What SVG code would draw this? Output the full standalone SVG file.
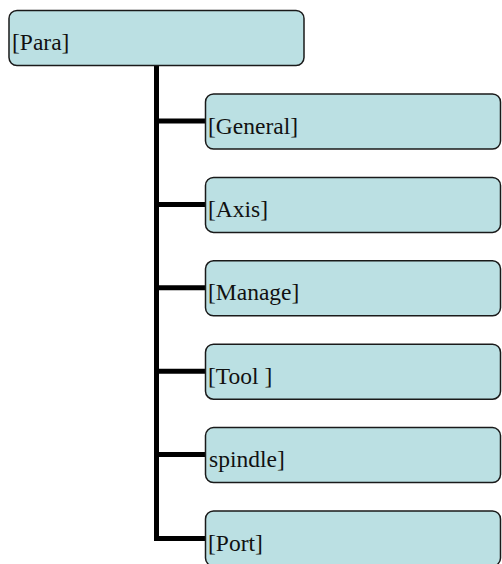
<svg xmlns="http://www.w3.org/2000/svg" width="502" height="564" viewBox="0 0 502 564">
  <style>
    .box { fill: #bbe0e3; stroke: #1a1a1a; stroke-width: 1.5; }
    .lbl { font-family: "Liberation Serif", "Times New Roman", serif; font-size: 23.5px; fill: #111; }
    .wire { stroke: #000; stroke-width: 5; fill: none; }
  </style>
  <rect width="502" height="564" fill="#fff"/>
  <g id="connectors">
    <path class="wire" d="M156.5 66 V538.5 H206"/>
    <path class="wire" d="M156.5 121 H206"/>
    <path class="wire" d="M156.5 204.4 H206"/>
    <path class="wire" d="M156.5 287.8 H206"/>
    <path class="wire" d="M156.5 371.2 H206"/>
    <path class="wire" d="M156.5 454.6 H206"/>
  </g>
  <g id="para">
    <rect class="box" x="9" y="10.5" width="295" height="55" rx="8"/>
    <text class="lbl" x="12" y="50">[Para]</text>
  </g>
  <g id="general">
    <rect class="box" x="205.5" y="94" width="295" height="55" rx="8"/>
    <text class="lbl" x="208" y="133.5">[General]</text>
  </g>
  <g id="axis">
    <rect class="box" x="205.5" y="177.4" width="295" height="55" rx="8"/>
    <text class="lbl" x="208" y="216.9">[Axis]</text>
  </g>
  <g id="manage">
    <rect class="box" x="205.5" y="260.8" width="295" height="55" rx="8"/>
    <text class="lbl" x="208" y="300.3">[Manage]</text>
  </g>
  <g id="tool">
    <rect class="box" x="205.5" y="344.2" width="295" height="55" rx="8"/>
    <text class="lbl" x="208" y="383.7" xml:space="preserve">[Tool ]</text>
  </g>
  <g id="spindle">
    <rect class="box" x="205.5" y="427.6" width="295" height="55" rx="8"/>
    <text class="lbl" x="209" y="466.6">spindle]</text>
  </g>
  <g id="port">
    <rect class="box" x="205.5" y="511" width="295" height="55" rx="8"/>
    <text class="lbl" x="208" y="550.5">[Port]</text>
  </g>
</svg>
